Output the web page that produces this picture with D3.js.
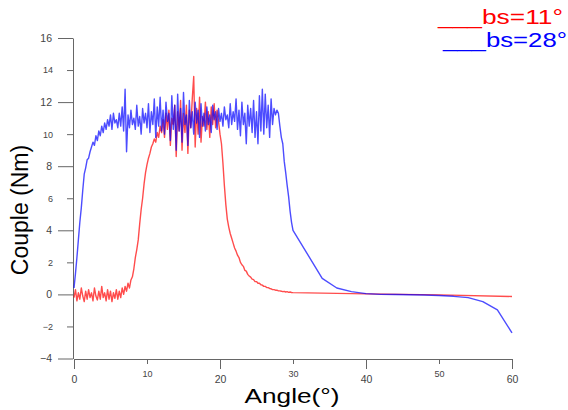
<!DOCTYPE html>
<html>
<head>
<meta charset="utf-8">
<script src="https://cdn.jsdelivr.net/npm/d3@7"></script>
<style>
body{margin:0;background:#fff;}
svg{display:block;font-family:Arial, "Liberation Sans", sans-serif;}
</style>
</head>
<body>
<script>
// dense part of both curves: one reading every 0.2 deg from 0 to 30
var denseStep = 0.2;

// bs=11 deg (red)
var redDense = [
	-0.2, 0.3, -0.4, 0.1, -0.3, 0.4, -0.1, -0.45, 0.2, -0.3,
	0.3, -0.2, 0.1, -0.4, 0.4, -0.1, -0.35, 0.2, -0.3, 0.5,
	-0.2, 0.1, -0.4, 0.3, -0.3, 0.2, -0.45, 0.1, -0.25, 0.3,
	-0.3, 0.2, -0.2, 0.4, 0.0, 0.5,
	0.2, 0.7, 0.4, 0.9, 1.1, 1.6, 2.3, 2.8, 3.4, 4.4,
	5.3, 6.0, 6.9, 7.6, 8.1, 8.5, 8.8, 9.2, 9.4, 9.7,
	9.5, 10.1, 9.8, 10.5, 10.1,
	10.9, 9.8, 11.3, 10.3, 11.5, 9.3, 11.0, 10.6, 11.8, 8.6,
	11.4, 10.2, 12.1, 9.0, 11.3, 10.1, 11.8, 8.8, 11.5, 10.4,
	12.2, 13.6, 9.2, 11.6, 10.0, 12.3, 9.5, 11.1, 10.5, 12.0,
	10.3, 11.4, 9.8, 11.7, 10.6, 11.9, 10.4, 11.5, 10.8,
	10.0, 9.4, 8.2, 6.8, 5.6, 4.7, 4.2, 3.8, 3.5, 3.2,
	2.9, 2.7, 2.45, 2.3, 2.0, 1.85, 1.75, 1.5, 1.45, 1.25,
	1.15, 1.08, 0.95, 0.92, 0.8, 0.8, 0.7, 0.7, 0.6, 0.58,
	0.5, 0.5, 0.43, 0.42, 0.37, 0.35, 0.3, 0.3, 0.26, 0.26,
	0.22, 0.22, 0.2, 0.17, 0.19, 0.15, 0.17, 0.13, 0.15, 0.12,
	0.11
];
var redTailAngle = [40, 50, 60];
var redTailValue = [0.03, -0.03, -0.13];

// bs=28 deg (blue)
var blueDense = [
	0.4, 1.3, 2.3, 3.4, 4.5, 5.4, 6.5, 7.5, 7.9, 8.4,
	8.5, 8.9, 9.2, 9.5, 9.3, 9.9, 9.6, 10.2, 9.9, 10.5,
	10.1,
	10.7, 10.3, 10.9, 10.5, 11.2, 10.3, 11.3, 10.7, 10.9, 10.4,
	11.3, 10.5, 11.7, 10.2, 12.8, 8.9, 11.2, 10.4, 11.5, 10.6,
	11.0, 10.3, 11.8, 10.5, 11.1, 10.0, 11.6, 10.7, 11.3, 10.4,
	11.9, 10.1, 11.4, 10.6, 12.2, 9.8, 11.7, 10.5, 12.3, 10.2,
	11.5, 10.0, 12.0, 10.8, 11.3, 9.6, 12.4, 10.3, 11.8, 9.0,
	12.5, 10.2, 11.6, 9.5, 12.6, 10.6, 11.2, 9.3, 12.1, 10.4,
	11.4, 10.0, 12.0, 10.7, 11.5, 9.8, 11.9, 10.5, 11.3, 10.2,
	11.7, 10.6, 11.2, 10.1, 11.8, 10.9, 11.4, 10.3, 11.6, 10.8,
	11.3, 10.5, 11.7, 10.9, 11.2, 10.4, 11.9, 10.6, 11.4, 10.8,
	12.2, 10.3, 11.5, 9.9, 12.0, 10.6, 11.3, 9.4, 11.8, 10.5,
	11.6, 10.1, 12.1, 9.8, 11.4, 9.4, 12.4, 10.2, 12.8, 10.0,
	12.5, 10.4, 11.8, 9.8, 12.2, 10.6, 11.6, 11.2, 11.5,
	11.3, 10.5, 9.8, 9.4, 8.3, 7.6, 6.8, 6.1, 5.2, 4.5,
	4.0
];
var blueTailAngle = [34, 36, 38, 40, 42, 44, 46, 48, 50, 52, 54, 56, 58, 60];
var blueTailValue = [1.0, 0.4, 0.17, 0.05, 0.0, -0.01, -0.02, -0.04, -0.07, -0.12, -0.2, -0.45, -0.97, -2.4];

var xTicks = [0, 10, 20, 30, 40, 50, 60];
var yTicks = [-4, -2, 0, 2, 4, 6, 8, 10, 12, 14, 16];
var legendLabels = ["___bs=11°", "___bs=28°"];

function toPoints(dense, tailA, tailV){
	var pts = [];
	for(var i in dense){
		pts.push([i*denseStep, dense[i]]);
	}
	for(var j in tailA){
		pts.push([tailA[j], tailV[j]]);
	}
	return pts;
}

var w = 568, h = 410;
var svg = d3.select("body").append("svg")
	.attr("width", w)
	.attr("height", h);

var x = d3.scaleLinear().domain([0, 60]).range([74, 512]);
var y = d3.scaleLinear().domain([-4, 16]).range([358.5, 38]);

// y axis
var yAx = svg.append("g")
	.attr("transform", "translate(73,0)")
	.call(d3.axisLeft(y).tickValues(yTicks).tickSizeOuter(0));
yAx.select(".domain").attr("stroke", "#666");
yAx.selectAll(".tick line")
	.attr("stroke", "#666")
	.attr("x2", function(d){ return d % 4 == 0 ? -15 : -6 });
yAx.selectAll(".tick text")
	.attr("x", function(d){ return d % 4 == 0 ? -21 : -20 })
	.attr("fill", "#444")
	.style("font-size", function(d){ return d % 4 == 0 ? "10.5px" : "9px" })
	.style("font-family", "Arial, 'Liberation Sans', sans-serif");

// x axis
var xAx = svg.append("g")
	.attr("transform", "translate(0,359)")
	.call(d3.axisBottom(x).tickValues(xTicks).tickSizeOuter(0));
xAx.select(".domain").attr("stroke", "#666");
xAx.selectAll(".tick line")
	.attr("stroke", "#666")
	.attr("y2", function(d){ return d % 20 == 0 ? 10 : 5 });
xAx.selectAll(".tick text")
	.attr("dy", null)
	.attr("y", function(d){ return d % 20 == 0 ? 24 : 18 })
	.attr("fill", "#444")
	.style("font-size", function(d){ return d % 20 == 0 ? "10.5px" : "9px" })
	.style("font-family", "Arial, 'Liberation Sans', sans-serif");

var line = d3.line()
	.x(function(d){ return x(d[0]) })
	.y(function(d){ return y(d[1]) });

var series = [
	{pts: toPoints(redDense, redTailAngle, redTailValue), color: "#ff0000"},
	{pts: toPoints(blueDense, blueTailAngle, blueTailValue), color: "#0000ff"}
];

svg.selectAll("path.curve")
	.data(series)
	.enter()
	.append("path")
	.attr("class", "curve")
	.attr("d", function(d){ return line(d.pts) })
	.attr("fill", "none")
	.attr("stroke", function(d){ return d.color })
	.attr("stroke-opacity", 0.7)
	.attr("stroke-width", 1.4)
	.attr("stroke-linejoin", "round");

// titles
svg.append("text")
	.attr("x", 292)
	.attr("y", 403)
	.attr("text-anchor", "middle")
	.attr("textLength", 95)
	.attr("lengthAdjust", "spacingAndGlyphs")
	.style("font-size", "20px")
	.text("Angle(°)");

svg.append("text")
	.attr("transform", "translate(28,210) rotate(-90)")
	.attr("text-anchor", "middle")
	.style("font-size", "23px")
	.text("Couple (Nm)");

// legend
var legX = [438, 443];
var legY = [24, 47];
var legLen = [125, 124];
var legColor = ["#ff0000", "#0000ff"];
svg.selectAll("text.leg")
	.data(legendLabels)
	.enter()
	.append("text")
	.attr("class", "leg")
	.attr("x", function(d,i){ return legX[i] })
	.attr("y", function(d,i){ return legY[i] })
	.attr("textLength", function(d,i){ return legLen[i] })
	.attr("lengthAdjust", "spacingAndGlyphs")
	.attr("fill", function(d,i){ return legColor[i] })
	.style("font-size", "20px")
	.text(function(d){ return d });
</script>
</body>
</html>
